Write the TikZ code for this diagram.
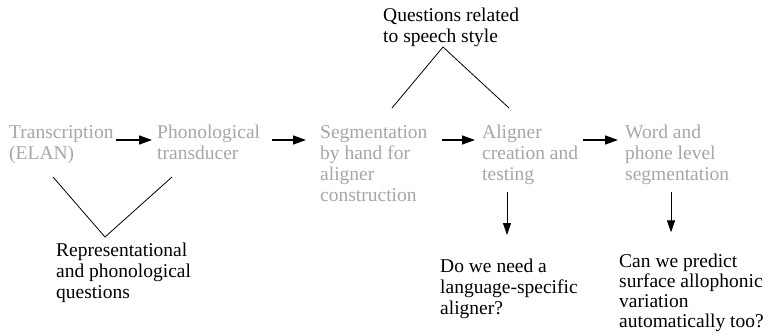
\documentclass[tikz,border=0pt]{standalone}
\usepackage{fontspec}
\setmainfont{Liberation Serif}
\usetikzlibrary{arrows.meta}
\definecolor{procgray}{RGB}{166,166,166}
\newcommand\lines[1]{\begin{tabular}[t]{@{}l@{}}#1\end{tabular}}
\begin{document}
\begin{tikzpicture}[x=1pt,y=-1pt,
  txt/.style={anchor=north west, inner sep=0pt, font=\fontsize{19.5}{21}\selectfont},
  proc/.style={txt, text=procgray},
  qtext/.style={txt, text=black},
  harrow/.style={line width=1.5pt, -{Triangle[length=13pt,width=9pt]}},
  varrow/.style={line width=0.9pt, -{Triangle[length=12pt,width=8pt]}},
  vline/.style={line width=0.8pt}]
\useasboundingbox (0,0) rectangle (767,335);

% process nodes
\node[proc] (trans) at (9,123.3) {\lines{Transcription\\(ELAN)}};
\node[proc] (phon) at (157,123.3) {\lines{Phonological\\transducer}};
\node[proc] (seg) at (320,123.3) {\lines{Segmentation\\by hand for\\aligner\\construction}};
\node[proc] (align) at (482,123.3) {\lines{Aligner\\creation and\\testing}};
\node[proc] (word) at (625,123.3) {\lines{Word and\\phone level\\segmentation}};

% question nodes
\node[qtext] (style) at (383,6.3) {\lines{Questions related\\to speech style}};
\node[qtext] (repr) at (56,241.3) {\lines{Representational\\and phonological\\questions}};
\node[qtext] (lang) at (440,257.3) {\lines{Do we need a\\language-specific\\aligner?}};
\node[qtext, font=\fontsize{19.5}{20}\selectfont] (allo) at (619,253) {\lines{Can we predict\\surface allophonic\\variation\\automatically too?}};

% horizontal arrows
\draw[harrow] ([xshift=107pt,yshift=-16.7pt]trans.north west) -- ([xshift=-5pt,yshift=-16.7pt]phon.north west);
\draw[harrow] ([xshift=115pt,yshift=-16.7pt]phon.north west) -- ([xshift=-14pt,yshift=-16.7pt]seg.north west);
\draw[harrow] ([xshift=122pt,yshift=-16.7pt]seg.north west) -- ([xshift=-7pt,yshift=-16.7pt]align.north west);
\draw[harrow] ([xshift=101pt,yshift=-16.7pt]align.north west) -- ([xshift=-7pt,yshift=-16.7pt]word.north west);

% vertical arrows
\draw[varrow] ([xshift=25pt,yshift=-68.7pt]align.north west) -- ([xshift=67pt,yshift=22.3pt]lang.north west);
\draw[varrow] ([xshift=46pt,yshift=-68.7pt]word.north west) -- ([xshift=52pt,yshift=20.6pt]allo.north west);

% bottom V
\draw[vline] ([xshift=44pt,yshift=-53.7pt]trans.north west) -- ([xshift=49pt,yshift=4.3pt]repr.north west) -- ([xshift=15pt,yshift=-53.7pt]phon.north west);

% top inverted V
\draw[vline] ([xshift=72pt,yshift=15.3pt]seg.north west) -- ([xshift=60pt,yshift=-40.7pt]style.north west) -- ([xshift=27pt,yshift=15.3pt]align.north west);
\end{tikzpicture}
\end{document}
